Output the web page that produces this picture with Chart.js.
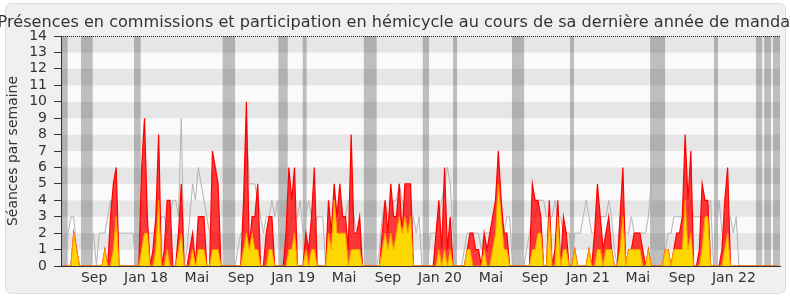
<!DOCTYPE html>
<html><head><meta charset="utf-8">
<script src="https://cdn.jsdelivr.net/npm/chart.js@4.4.1/dist/chart.umd.min.js"></script>
<style>html,body{margin:0;padding:0;background:#fff}</style>
</head><body>
<canvas id="c" width="790" height="300"></canvas>
<script>
const chartTitle = "Présences en commissions et participation en hémicycle au cours de sa dernière année de mandat";
const yTitle = "Séances par semaine";

// weekly values (254 weeks)
const redValues = [
0,0,0,0,2,1,0,0,0,0,
0,0,0,0,0,1,0,3,5,6,
0,0,0,0,0,0,0,0,6,9,
3,0,1,3,8,0,1,4,4,0,
0,2,5,0,0,1,2,0,3,3,
3,0,0,7,6,5,0,0,0,0,
0,0,0,0,4,10,1,3,3,5,
0,0,2,3,3,0,0,0,0,2,
6,4,6,0,0,0,2,1,3,6,
0,0,0,0,4,2,5,3,5,3,
3,1,8,2,2,3,0,0,0,0,
0,0,0,2,4,2,5,3,3,5,
2,5,5,5,0,0,0,0,0,0,
0,0,2,4,1,6,1,3,0,0,
0,0,0,1,2,2,1,1,0,2,
1,2,3,4,7,4,2,2,0,0,
0,0,0,0,0,0,5,4,4,3,
0,0,4,0,1,4,0,3,2,0,
0,1,0,0,0,0,1,0,2,5,
3,1,2,3,1,0,0,3,6,0,
1,1,2,2,2,1,0,1,0,0,
0,0,0,1,1,0,1,2,2,3,
8,4,7,0,0,1,5,4,4,0,
0,0,0,1,4,6,0,0,0,0,
0,0,0,0,0,0,0,0,0,0,
0,0,0,0];
const yellowValues = [
0,0,0,0,2,1,0,0,0,0,
0,0,0,0,0,1,0,0,1,3,
0,0,0,0,0,0,0,0,1,2,
2,0,0,1,4,0,0,1,0,0,
0,1,2,0,0,0,1,0,1,1,
1,0,0,1,1,1,0,0,0,0,
0,0,0,0,1,2,1,2,1,1,
0,0,0,1,1,0,0,0,0,0,
1,1,2,0,0,0,1,0,1,1,
0,0,0,0,2,1,4,2,2,2,
2,0,1,1,1,1,0,0,0,0,
0,0,0,1,2,1,2,1,2,3,
2,3,2,3,0,0,0,0,0,0,
0,0,0,1,0,1,0,1,0,0,
0,0,0,1,1,0,0,0,0,1,
0,0,1,2,5,3,1,1,0,0,
0,0,0,0,0,0,1,1,2,2,
0,0,3,0,0,3,0,1,1,0,
0,1,0,0,0,0,1,0,0,1,
1,0,1,1,1,0,0,1,3,0,
1,1,1,1,1,0,0,1,0,0,
0,0,0,1,1,0,1,1,1,1,
4,1,2,0,0,0,1,3,3,0,
0,0,0,0,1,2,0,0,0,0,
0,0,0,0,0,0,0,0,0,0,
0,0,0,0];
const greyValues = [
0,0,2,3,3,1,0,0,0,0,
0,2,0,2,2,2,3,4,2,2,
2,2,2,2,2,2,0,0,2,2,
2,2,2,2,2,3,3,2,3,4,
4,3,9,0,1,3,5,4,6,5,
4,3,2,2,2,2,0,0,0,0,
0,0,1,2,2,9,5,5,5,4,
3,2,3,3,4,3,4,0,0,1,
2,3,3,3,4,2,3,4,3,2,
3,3,3,0,2,3,2,2,3,3,
3,4,4,3,2,2,0,0,0,0,
0,0,1,3,4,3,3,4,4,5,
4,3,3,2,3,2,3,0,0,0,
2,2,2,3,4,5,6,5,2,0,
0,0,1,2,2,2,2,2,1,2,
2,2,2,2,2,2,2,3,3,0,
0,0,0,0,1,2,3,3,4,4,
4,3,3,3,4,3,3,2,2,2,
0,2,2,2,3,4,3,2,2,3,
3,3,3,4,3,1,0,3,2,2,
2,3,2,2,2,2,2,3,5,0,
0,0,0,1,2,2,3,3,3,3,
3,3,4,3,3,3,3,3,3,4,
0,2,4,2,2,3,3,2,3,0,
0,0,0,0,0,0,0,0,0,0,
0,0,0,0];

// parliamentary recess periods, in week units
const vacations = [[-0.5,1.85],[6.56,10.7],[25.3,27.65],[56.6,61.0],[76.3,79.6],[84.9,86.3],[106.5,111.0],[127.3,129.5],[138.0,139.4],[158.8,163.1],[179.3,180.7],[207.6,212.9],[230.2,231.6],[245.0,247.2],[247.9,250.3],[251.0,253.5]];

const xTickWeeks = [11.2,29.5,47.5,63.1,81.5,99.5,115.0,133.4,151.4,166.9,185.7,203.3,218.9,237.2];
const xTickLabels = ['Sep','Jan 18','Mai','Sep','Jan 19','Mai','Sep','Jan 20','Mai','Sep','Jan 21','Mai','Sep','Jan 22'];
const yMax = 14;

const toXY = arr => arr.map((v,i)=>({x:i,y:v}));

const decor = {
  id:'decor',
  beforeDraw(chart){
    const {ctx, chartArea:a, scales:{x,y}} = chart;
    ctx.save();
    ctx.fillStyle='#ffffff'; ctx.fillRect(0,0,chart.width,chart.height);
    ctx.beginPath(); ctx.roundRect(5.5,3.5,780,290,6);
    ctx.fillStyle='#f0f0f0'; ctx.fill();
    ctx.strokeStyle='#dcdcdc'; ctx.lineWidth=1; ctx.stroke();
    for (let v=0; v<yMax; v++){
      const y0=y.getPixelForValue(v+1), y1=y.getPixelForValue(v);
      ctx.fillStyle = (v%2) ? '#e6e6e6' : '#fafafa';
      ctx.fillRect(a.left, y0, a.right-a.left, y1-y0);
    }
    ctx.fillStyle='rgba(0,0,0,0.24)';
    vacations.forEach(([s,e])=>{
      const x0=x.getPixelForValue(s), x1=x.getPixelForValue(e);
      ctx.fillRect(x0,a.top,x1-x0,a.bottom-a.top);
    });
    ctx.restore();
  },
  afterDraw(chart){
    const {ctx, chartArea:a} = chart;
    ctx.save();
    ctx.strokeStyle='#222'; ctx.lineWidth=1; ctx.setLineDash([1,1]);
    ctx.beginPath(); ctx.moveTo(a.left, a.top+0.5); ctx.lineTo(a.right, a.top+0.5); ctx.stroke();
    ctx.setLineDash([]);
    ctx.fillStyle='#333';
    ctx.font='16.1px "DejaVu Sans"'; ctx.textAlign='center'; ctx.textBaseline='alphabetic';
    ctx.fillText(chartTitle, 397, 26.5);
    ctx.translate(16.5, (a.top+a.bottom)/2); ctx.rotate(-Math.PI/2);
    ctx.font='14px "DejaVu Sans"';
    ctx.fillText(yTitle, 0, 0);
    ctx.restore();
  }
};

Chart.defaults.font.family = '"DejaVu Sans"';
new Chart(document.getElementById('c'), {
  type:'line',
  data:{datasets:[
    {label:'Participations', data:toXY(yellowValues), borderColor:'#ff9f00', backgroundColor:'#ffd700', fill:'origin', borderWidth:1, pointRadius:0, tension:0, order:0},
    {label:'Présences', data:toXY(redValues), borderColor:'#ff0000', backgroundColor:'rgba(255,0,0,0.77)', fill:'origin', borderWidth:1.2, pointRadius:0, tension:0, order:1},
    {label:'Hémicycle', data:toXY(greyValues), borderColor:'#b4b4b4', fill:false, borderWidth:1, pointRadius:0, tension:0, order:2}
  ]},
  options:{
    responsive:false, animation:false, devicePixelRatio:1,
    layout:{padding:{top:36, right:10, left:0, bottom:0}},
    plugins:{legend:{display:false}, tooltip:{enabled:false}, title:{display:false}},
    scales:{
      x:{type:'linear', min:-0.5, max:redValues.length - 0.5, offset:false,
        grid:{display:false, drawTicks:false},
        border:{display:true, color:'#333', width:1},
        afterBuildTicks:s=>{ s.ticks = xTickWeeks.map(v=>({value:v})); },
        afterFit:s=>{ s.height = 34; },
        ticks:{autoSkip:false, maxRotation:0, minRotation:0, padding:4, color:'#333', font:{size:14},
          callback:(v,i)=>xTickLabels[i]}
      },
      y:{min:0, max:yMax,
        grid:{display:true, drawOnChartArea:false, drawTicks:true, tickLength:7, color:'#333'},
        border:{display:true, color:'#333', width:1},
        afterFit:s=>{ s.width = 61; },
        ticks:{stepSize:1, autoSkip:false, padding:7, color:'#333', font:{size:14}}
      }
    }
  },
  plugins:[decor]
});
</script>
</body></html>
